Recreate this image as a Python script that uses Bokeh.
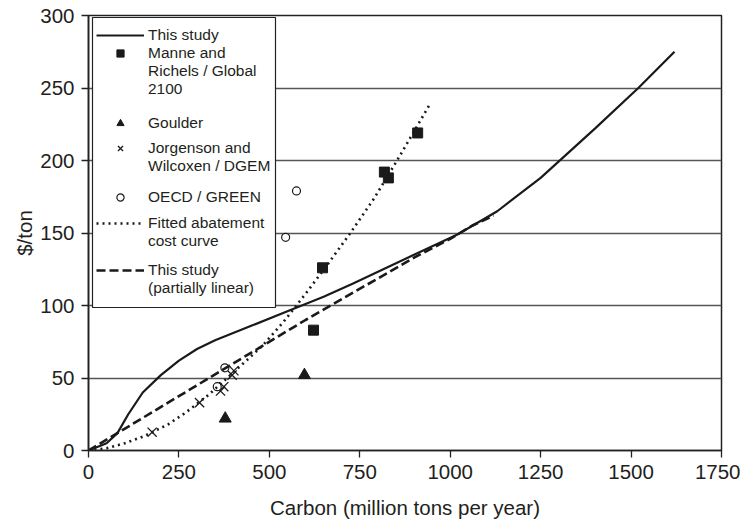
from bokeh.plotting import figure
from bokeh.models import Legend, LegendItem, Range1d, FixedTicker, BoxAnnotation
from bokeh.embed import file_html
from bokeh.resources import INLINE

# This study (solid curve)
study_x = [0, 50, 80, 110, 150, 200, 250, 300, 350, 400, 450, 550, 650, 730, 900, 1020, 1130, 1250, 1400, 1520, 1620]
study_y = [0, 5, 12, 25, 40, 52, 62, 70, 76, 81, 86, 96, 106, 115, 135, 149, 165, 188, 222, 250, 275]

# This study (partially linear)
lin_x = [0, 300, 600, 900, 1000, 1060, 1120]
lin_y = [0, 45, 90, 133, 146, 155, 162]

# Fitted abatement cost curve
fit_x = [0, 50, 100, 150, 176, 220, 268, 330, 397, 480, 540, 600, 660, 724, 790, 853, 900, 944]
fit_y = [0, 1.5, 5, 9.5, 12.6, 18, 26, 38, 53, 72, 89, 108, 128, 150, 174, 200, 220, 239]

# Model results
manne_x = [910, 818, 829, 647, 622]
manne_y = [219, 192, 188, 126, 83]
goulder_x = [378, 597]
goulder_y = [22, 52]
jorg_x = [176, 307, 365, 374, 397, 402]
jorg_y = [12.6, 33, 41, 44, 52, 55]
oecd_x = [356, 377, 545, 575]
oecd_y = [44, 57, 147, 179]

x_ticks = [0, 250, 500, 750, 1000, 1250, 1500, 1750]
y_ticks = [0, 50, 100, 150, 200, 250, 300]

legend_labels = [
    ["This study"],
    ["Manne and", "Richels / Global", "2100"],
    ["Goulder"],
    ["Jorgenson and", "Wilcoxen / DGEM"],
    ["OECD / GREEN"],
    ["Fitted abatement", "cost curve"],
    ["This study", "(partially linear)"],
]

FONT = "Liberation Sans"
TXT = "#231f20"
INK = "#1a1a1a"

FRAME_L, FRAME_T, FRAME_R, FRAME_B = 88, 15, 721, 450
W, H = 740, 527

p = figure(width=W, height=H, x_range=Range1d(0, 1750), y_range=Range1d(0, 300),
           output_backend="svg", toolbar_location=None,
           min_border_left=FRAME_L, min_border_right=W - FRAME_R,
           min_border_top=FRAME_T, min_border_bottom=H - FRAME_B)

p.xgrid.visible = False
p.ygrid.ticker = FixedTicker(ticks=y_ticks)
p.ygrid.grid_line_color = "#555555"
p.ygrid.grid_line_width = 1.4
p.outline_line_color = "#222222"
p.outline_line_width = 1.5

for ax, ticks in ((p.xaxis[0], x_ticks), (p.yaxis[0], y_ticks)):
    ax.ticker = FixedTicker(ticks=ticks)
    ax.major_tick_in = 0
    ax.major_tick_out = 7
    ax.minor_tick_line_color = None
    ax.axis_line_width = 1.6
    ax.axis_line_color = "#222222"
    ax.major_tick_line_color = "#222222"
    ax.major_tick_line_width = 1.3
    ax.major_label_text_font = FONT
    ax.major_label_text_font_size = "20.5px"
    ax.major_label_text_color = TXT
    ax.axis_label_text_font = FONT
    ax.axis_label_text_font_size = "20.5px"
    ax.axis_label_text_font_style = "normal"
    ax.axis_label_text_color = TXT

p.xaxis.axis_label = "Carbon (million tons per year)"
p.yaxis.axis_label = "$/ton"
p.xaxis.major_label_standoff = 7
p.xaxis.axis_label_standoff = 14
p.yaxis.major_label_standoff = 7
p.yaxis.axis_label_standoff = 1

r_study = p.line(study_x, study_y, line_color=INK, line_width=2.2)
r_manne = p.scatter(manne_x, manne_y, marker="square", size=10, fill_color=INK, line_color=INK)
r_goul = p.scatter(goulder_x, goulder_y, marker="triangle", size=12, fill_color=INK, line_color=INK)
r_jorg = p.scatter(jorg_x, jorg_y, marker="x", size=13, line_color=INK, line_width=1.3)
r_oecd = p.scatter(oecd_x, oecd_y, marker="circle", size=8, fill_color="white", line_color=INK, line_width=1.2)
r_fit = p.line(fit_x, fit_y, line_color=INK, line_width=2.6, line_dash="2 4")
r_lin = p.line(lin_x, lin_y, line_color=INK, line_width=2.6, line_dash="9 4")
r_blank = p.line([], [], line_alpha=0)

# legend box (canvas pixels)
box = BoxAnnotation(left=92, right=275, top=17, bottom=307,
                    left_units="canvas", right_units="canvas",
                    top_units="canvas", bottom_units="canvas",
                    fill_color="white", fill_alpha=1.0,
                    line_color="#222222", line_width=1.2, line_alpha=1.0)
p.add_layout(box)

ROW = 18
first_row_centers = [35, 52.5, 122.5, 148, 197, 223, 269.5]
renderers = [r_study, r_manne, r_goul, r_jorg, r_oecd, r_fit, r_lin]
for rend, lines, yc in zip(renderers, legend_labels, first_row_centers):
    items = [LegendItem(label=lines[0], renderers=[rend])]
    items += [LegendItem(label=t, renderers=[r_blank]) for t in lines[1:]]
    bottom = yc - ROW / 2 + ROW * len(lines)
    lg = Legend(items=items, location=(96 - FRAME_L, FRAME_B - bottom))
    lg.margin = 0
    lg.padding = 0
    lg.spacing = 0
    lg.glyph_width = 48
    lg.glyph_height = ROW
    lg.label_height = ROW
    lg.label_standoff = 4
    lg.label_text_font = FONT
    lg.label_text_font_size = "15.5px"
    lg.label_text_color = TXT
    lg.border_line_color = None
    lg.background_fill_alpha = 0
    p.add_layout(lg, "center")

open("out.html", "w").write(file_html(p, INLINE))
